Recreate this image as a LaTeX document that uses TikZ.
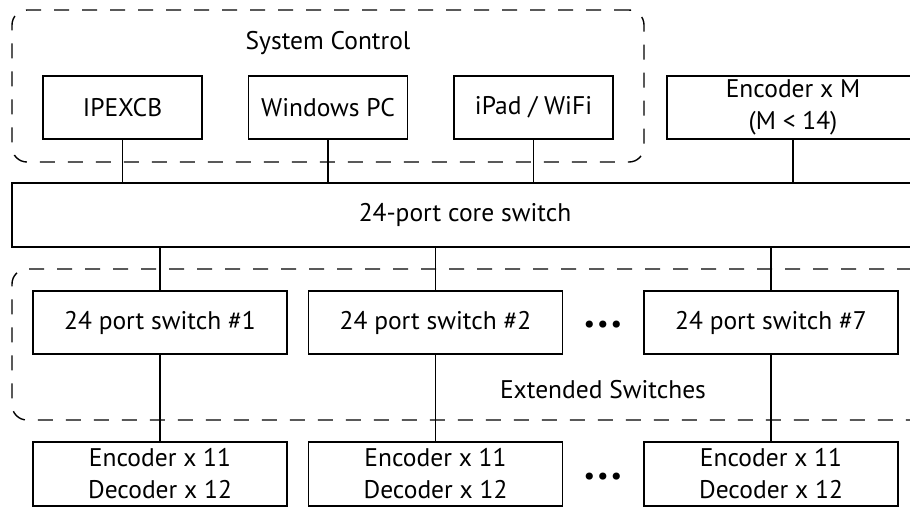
\documentclass[tikz,border=0pt]{standalone}
\usepackage{fontspec}
\setmainfont{PT Sans}
\usetikzlibrary{positioning}
\tikzset{unit/.style={draw, line width=1.4pt, rectangle, minimum width=159pt,
		minimum height=63pt, inner sep=0pt, align=center,
		font=\fontsize{25.5}{32}\selectfont},
	swbox/.style={unit, minimum width=254pt},
	group/.style={draw, line width=1.4pt, dash pattern=on 15pt off 13pt,
		rounded corners=15pt},
	link/.style={line width=1.4pt},
	caption/.style={font=\fontsize{25.5}{32}\selectfont}}

\begin{document}
\begin{tikzpicture}[x=1pt,y=-1pt]
		\useasboundingbox (0,0) rectangle (910,507);
		\clip (0,0) rectangle (910,507);
		% groups
		\draw[group] (644,10) -- (12,10) -- (12,162) -- (644,162) -- cycle;
		\draw[group] (940,269) -- (12,269) -- (12,420) -- (940,420);
		\node[caption] (ctrl) at (328,43) {System Control};
		\node[caption] (ext) at (603,390) {Extended Switches};
		
		\node[unit] (ipexcb) at (122.5,107.5) {IPEXCB};
		\node[unit] (winpc) at (328,107.5) {Windows PC};
		\node[unit] (ipad) at (533.5,107.5) {iPad / WiFi};
		\node[unit, minimum width=252pt] (encm) at (793,107.5) {Encoder x M\\(M < 14)};
		\node[unit, minimum width=906pt, minimum height=64pt] (core) at (465,215) {24-port core switch};
		
		\node[swbox] (sw1) at (160,322.5) {24 port switch \#1};
		\node[swbox] (sw2) at (435.5,322.5) {24 port switch \#2};
		\node[swbox] (sw7) at (771,322.5) {24 port switch \#7};
		\node[caption] (dotsa) at (603,327) {•\kern2pt•\kern2pt•};
		
		\node[swbox, minimum height=64pt] (ed1) at (160,474) {Encoder x 11\\Decoder x 12};
		\node[swbox, minimum height=64pt] (ed2) at (435.5,474) {Encoder x 11\\Decoder x 12};
		\node[swbox, minimum height=64pt] (ed7) at (771,474) {Encoder x 11\\Decoder x 12};
		\node[caption] (dotsb) at (603,479) {•\kern2pt•\kern2pt•};
		
		\foreach \n in {ipexcb,winpc,ipad,encm}
		\draw[link] (\n.south) -- (\n.south |- core.north);
		\foreach \n/\m in {sw1/ed1,sw2/ed2,sw7/ed7}{
			\draw[link] (\n.north) -- (\n.north |- core.south);
			\draw[link] (\n) -- (\m);
		}
	\end{tikzpicture}
\end{document}
